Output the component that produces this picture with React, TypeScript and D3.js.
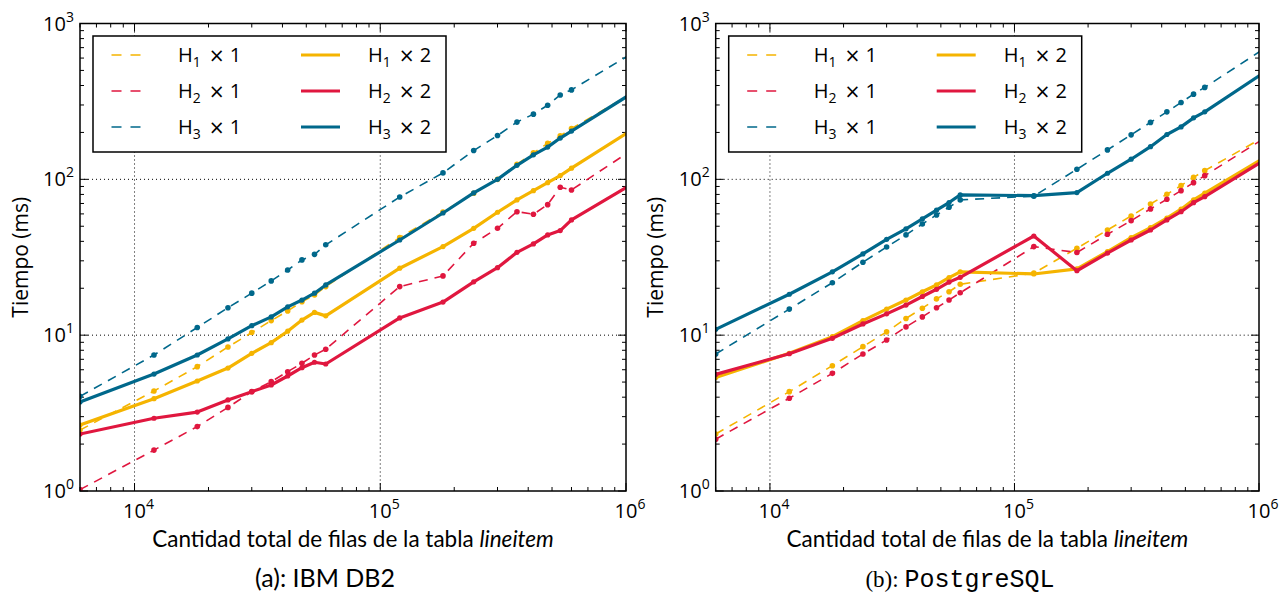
import React from 'react';
import * as d3 from 'd3';

// ---- data ----
const rows = [6000, 12000, 18000, 24000, 30000, 36000, 42000, 48000, 54000, 60000, 120000, 180000, 240000, 300000, 360000, 420000, 480000, 540000, 600000, 1200000];

const seriesKeys = ['H1x1', 'H2x1', 'H3x1', 'H1x2', 'H2x2', 'H3x2'];
const seriesSub = ['1', '2', '3', '1', '2', '3'];
const seriesMult = ['1', '1', '1', '2', '2', '2'];
const seriesColors = ['#F5B400', '#E0173F', '#00688B', '#F5B400', '#E0173F', '#00688B'];
const seriesDashed = [true, true, true, false, false, false];

const db2_h1x1 = [2.46, 4.38, 6.28, 8.4, 10.4, 12.4, 14.3, 16.4, 18.1, 20.5, 42.3, 61.7, 81.5, 100, 125, 148, 170, 190, 212, 399];
const db2_h2x1 = [1.02, 1.83, 2.59, 3.44, 4.34, 5.03, 5.83, 6.6, 7.46, 8.13, 20.5, 24, 38.9, 48.5, 62, 59.7, 68.8, 89, 85.5, 176];
const db2_h3x1 = [4.05, 7.46, 11.2, 15, 18.6, 22.3, 26.2, 30.4, 33, 38, 77, 110, 153, 191, 233, 262, 299, 348, 375, 725];
const db2_h1x2 = [2.65, 3.91, 5.08, 6.15, 7.65, 8.95, 10.6, 12.5, 14.0, 13.3, 26.9, 37, 48.5, 61.5, 73.8, 84.6, 95.2, 105.7, 118, 236];
const db2_h2x2 = [2.32, 2.93, 3.21, 3.84, 4.34, 4.79, 5.47, 6.18, 6.7, 6.53, 12.9, 16.3, 22, 27.1, 34, 38.5, 44, 46.9, 54.9, 105];
const db2_h3x2 = [3.73, 5.63, 7.46, 9.46, 11.5, 13.1, 15.2, 16.8, 18.6, 21, 40.8, 60.8, 81.8, 100, 123, 143.6, 161, 184, 204, 404];

const pg_h1x1 = [2.32, 4.34, 6.37, 8.44, 10.5, 12.8, 14.9, 17.1, 19, 21.2, 25, 36.1, 47.3, 58.2, 69.5, 80.2, 91.2, 103, 113.7, 211];
const pg_h2x1 = [2.15, 3.94, 5.69, 7.57, 9.31, 11.3, 13.1, 15, 16.8, 18.7, 37, 33.9, 44.4, 54.3, 64.6, 74.5, 84.6, 95.2, 105.6, 209];
const pg_h3x1 = [7.57, 14.7, 21.7, 29.4, 36.8, 44, 51.7, 59.1, 66.2, 73.8, 78, 116, 154.5, 193, 232, 271, 311, 352, 389, 790];
const pg_h1x2 = [5.35, 7.65, 9.78, 12.4, 14.7, 16.8, 19, 21, 23.4, 25.5, 24.7, 26.6, 34.4, 42.2, 49, 56.3, 64.3, 73.8, 81.5, 156];
const pg_h2x2 = [5.6, 7.6, 9.55, 11.8, 13.7, 15.6, 17.7, 19.7, 21.9, 23.5, 43.3, 25.9, 33.6, 40.8, 47.3, 54.9, 62, 70.8, 77.4, 151];
const pg_h3x2 = [10.9, 18.3, 25.5, 33.2, 41.2, 48.1, 55.7, 63.4, 71, 79.4, 78.6, 82.2, 109.4, 134.6, 162, 194, 217, 248, 271, 558];

const xDomain = [6000, 1e6];
const yDomain = [1, 1000];
const xMajor = [1e4, 1e5, 1e6];
const yMajor = [1, 10, 100, 1000];
const xLabel = 'Cantidad total de filas de la tabla ';
const xLabelItalic = 'lineitem';
const yLabel = 'Tiempo (ms)';

const W = 1282;
const H = 598;

const FONT = "'Open Sans', sans-serif";
const FONT2 = "Lato, sans-serif";

function minorTicks(lo: number, hi: number) {
  const out: number[] = [];
  for (let e = Math.floor(Math.log10(lo)); e <= Math.ceil(Math.log10(hi)); e++) {
    for (let m = 2; m <= 9; m++) {
      const v = m * Math.pow(10, e);
      if (v >= lo * 0.999 && v <= hi * 1.001) out.push(v);
    }
  }
  return out;
}

function exp(v: number) {
  return String(Math.round(Math.log10(v)));
}

type PanelProps = {
  id: string;
  x0: number;
  x1: number;
  y0: number;
  y1: number;
  series: number[][];
  yLabelX: number;
};

function Panel({ id, x0, x1, y0, y1, series, yLabelX }: PanelProps) {
  const x = d3.scaleLog().domain(xDomain).range([x0, x1]);
  const y = d3.scaleLog().domain(yDomain).range([y1, y0]);
  const line = d3
    .line<[number, number]>()
    .x((d) => x(d[0]))
    .y((d) => y(d[1]));
  const xMinor = minorTicks(xDomain[0], xDomain[1]);
  const yMinor = minorTicks(yDomain[0], yDomain[1]);
  const majT = 8;
  const minT = 4;
  const clipId = 'clip-' + id;

  const lgX = x0 + 13;
  const lgY = y0 + 12.5;
  const rowY = [31.5, 67.5, 103.5];

  return (
    <g>
      <defs>
        <clipPath id={clipId}>
          <rect x={x0} y={y0} width={x1 - x0} height={y1 - y0} />
        </clipPath>
      </defs>
      {/* grid */}
      {xMajor
        .filter((v) => x(v) > x0 + 1 && x(v) < x1 - 1)
        .map((v) => (
          <line key={'gx' + v} x1={x(v)} x2={x(v)} y1={y0} y2={y1} stroke="#000" strokeWidth={1} strokeDasharray="1,3" />
        ))}
      {yMajor
        .filter((v) => y(v) < y1 - 1 && y(v) > y0 + 1)
        .map((v) => (
          <line key={'gy' + v} x1={x0} x2={x1} y1={y(v)} y2={y(v)} stroke="#000" strokeWidth={1} strokeDasharray="1,3" />
        ))}
      {/* ticks */}
      {xMajor.map((v) => (
        <g key={'xt' + v}>
          <line x1={x(v)} x2={x(v)} y1={y1} y2={y1 - majT} stroke="#000" strokeWidth={1} />
          <line x1={x(v)} x2={x(v)} y1={y0} y2={y0 + majT} stroke="#000" strokeWidth={1} />
        </g>
      ))}
      {xMinor.map((v) => (
        <g key={'xm' + v}>
          <line x1={x(v)} x2={x(v)} y1={y1} y2={y1 - minT} stroke="#000" strokeWidth={1} />
          <line x1={x(v)} x2={x(v)} y1={y0} y2={y0 + minT} stroke="#000" strokeWidth={1} />
        </g>
      ))}
      {yMajor.map((v) => (
        <g key={'yt' + v}>
          <line x1={x0} x2={x0 + majT} y1={y(v)} y2={y(v)} stroke="#000" strokeWidth={1} />
          <line x1={x1} x2={x1 - majT} y1={y(v)} y2={y(v)} stroke="#000" strokeWidth={1} />
        </g>
      ))}
      {yMinor.map((v) => (
        <g key={'ym' + v}>
          <line x1={x0} x2={x0 + minT} y1={y(v)} y2={y(v)} stroke="#000" strokeWidth={1} />
          <line x1={x1} x2={x1 - minT} y1={y(v)} y2={y(v)} stroke="#000" strokeWidth={1} />
        </g>
      ))}
      {/* series */}
      <g clipPath={`url(#${clipId})`}>
        {series.map((vals, si) => {
          const pts: [number, number][] = rows.map((r, i) => [r, vals[i]]);
          const dashed = seriesDashed[si];
          return (
            <g key={seriesKeys[si]}>
              <path
                d={line(pts) || ''}
                fill="none"
                stroke={seriesColors[si]}
                strokeWidth={dashed ? 1.6 : 3.2}
                strokeDasharray={dashed ? '9,7' : undefined}
                strokeLinejoin="round"
              />
              {pts.map((p, i) => (
                <circle key={i} cx={x(p[0])} cy={y(p[1])} r={dashed ? 2.8 : 2.6} fill={seriesColors[si]} />
              ))}
            </g>
          );
        })}
      </g>
      {/* frame */}
      <rect x={x0} y={y0} width={x1 - x0} height={y1 - y0} fill="none" stroke="#000" strokeWidth={1.5} />
      {/* tick labels */}
      {xMajor.map((v) => (
        <text key={'xl' + v} x={x(v) + 4} y={y1 + 27} textAnchor="middle" fontFamily={FONT} fontSize={20}>
          10<tspan dy={-9} fontSize={14}>{exp(v)}</tspan>
        </text>
      ))}
      {yMajor.map((v) => (
        <text key={'yl' + v} x={x0 - 6} y={y(v) + 7} textAnchor="end" fontFamily={FONT} fontSize={20}>
          10<tspan dy={-9} fontSize={14}>{exp(v)}</tspan>
        </text>
      ))}
      {/* axis labels */}
      <text x={(x0 + x1) / 2} y={y1 + 56} textAnchor="middle" fontFamily={FONT2} fontSize={22.5}>
        {xLabel}
        <tspan fontStyle="italic">{xLabelItalic}</tspan>
      </text>
      <text
        transform={`translate(${yLabelX},${(y0 + y1) / 2}) rotate(-90)`}
        textAnchor="middle"
        fontFamily={FONT}
        fontSize={21}
      >
        {yLabel}
      </text>
      {/* legend */}
      <rect x={lgX} y={lgY} width={353} height={116} fill="#fff" stroke="#000" strokeWidth={1.5} />
      {seriesKeys.map((k, si) => {
        const col = si < 3 ? 0 : 1;
        const row = si % 3;
        const ly = y0 + rowY[row];
        const sx0 = x0 + (col === 0 ? 31.5 : 221);
        const sx1 = x0 + (col === 0 ? 61.5 : 260);
        const tx = x0 + (col === 0 ? 98 : 288);
        const dashed = seriesDashed[si];
        return (
          <g key={'lg' + k}>
            <line
              x1={sx0}
              x2={sx1}
              y1={ly}
              y2={ly}
              stroke={seriesColors[si]}
              strokeWidth={dashed ? 1.6 : 3.2}
              strokeDasharray={dashed ? '10,9' : undefined}
            />
            <text x={tx} y={ly + 7} fontFamily={FONT} fontSize={20}>
              H<tspan dy={5} fontSize={14}>{seriesSub[si]}</tspan>
              <tspan dy={-5} dx={8} fontFamily="'DejaVu Sans', sans-serif" fontSize={19}>{'\u00d7'}</tspan>
              <tspan dx={5}>{seriesMult[si]}</tspan>
            </text>
          </g>
        );
      })}
    </g>
  );
}

export default function App() {
  const db2 = [db2_h1x1, db2_h2x1, db2_h3x1, db2_h1x2, db2_h2x2, db2_h3x2];
  const pg = [pg_h1x1, pg_h2x1, pg_h3x1, pg_h1x2, pg_h2x2, pg_h3x2];
  return (
    <svg width={W} height={H} style={{ position: 'absolute', left: 0, top: 0, background: '#fff' }}>
      <rect x={0} y={0} width={W} height={H} fill="#fff" />
      <Panel id="a" x0={80} x1={626} y0={23.5} y1={491} series={db2} yLabelX={28} />
      <Panel id="b" x0={715.7} x1={1259} y0={23.5} y1={491} series={pg} yLabelX={663} />
      <text x={325} y={587} textAnchor="middle" fontFamily={FONT2} fontSize={25}>
        (a): IBM DB2
      </text>
      <text x={960} y={587} textAnchor="middle" fontSize={23}>
        <tspan fontFamily="'Liberation Serif', serif">(b):</tspan>
        <tspan dx={6} fontFamily="'Liberation Mono', monospace" fontSize={25}>PostgreSQL</tspan>
      </text>
    </svg>
  );
}
